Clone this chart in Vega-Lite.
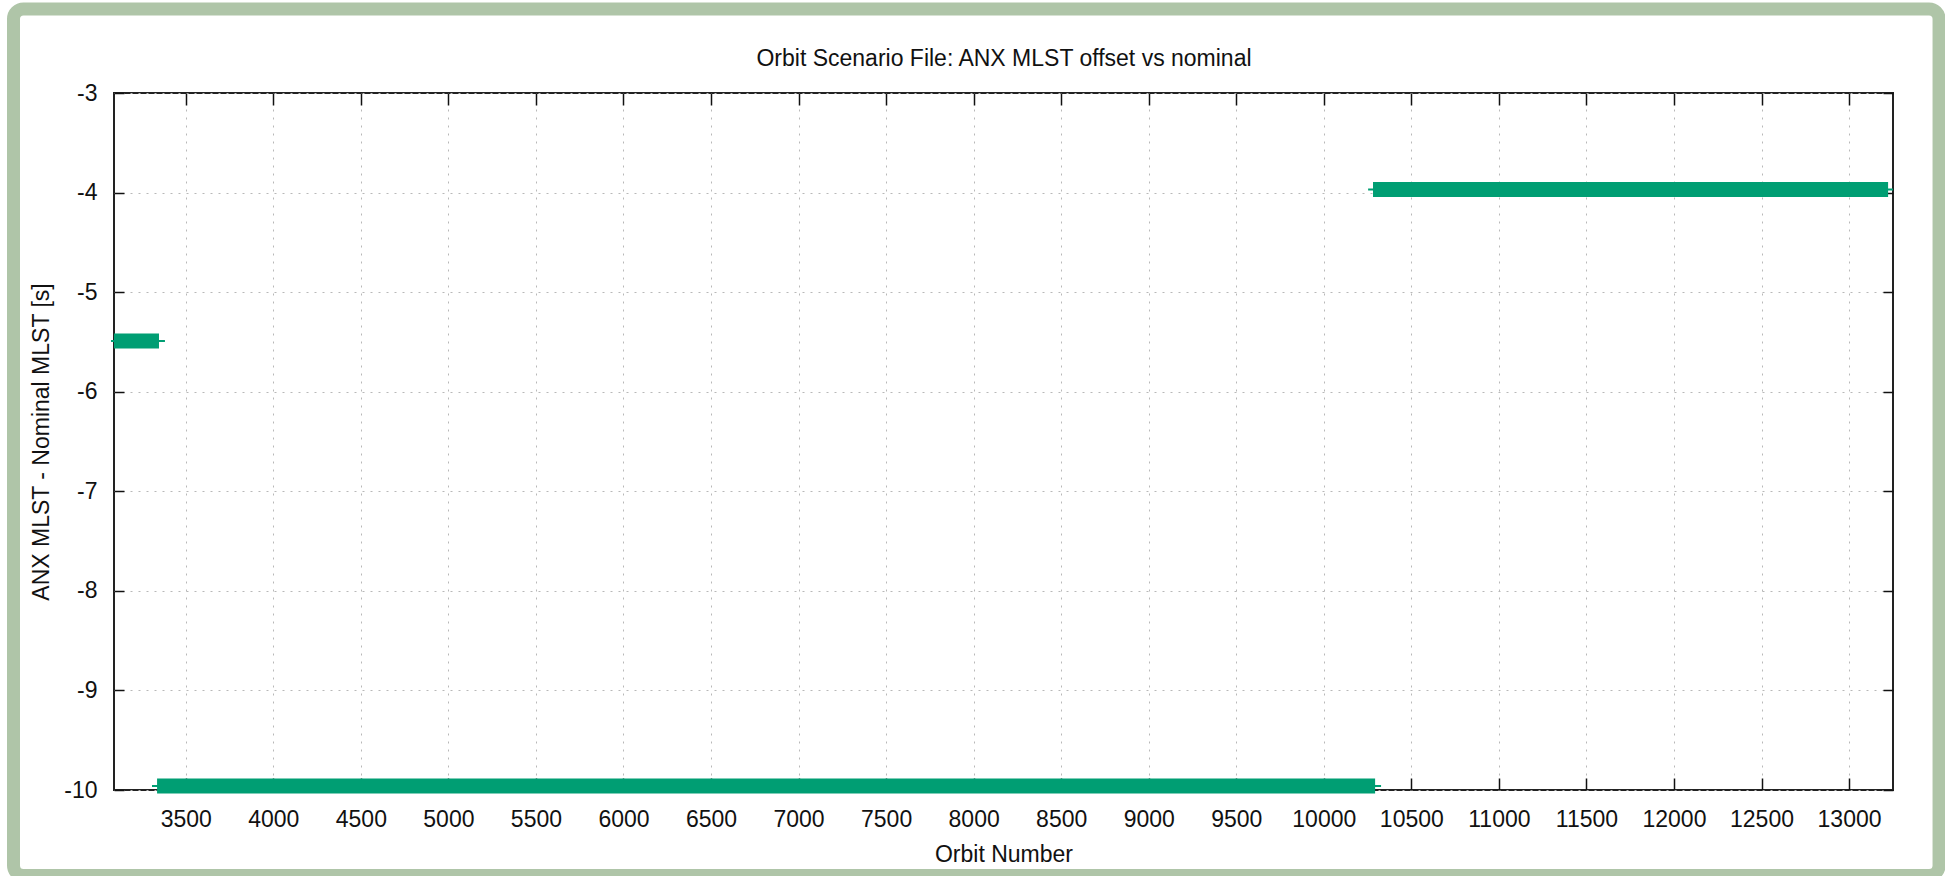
{
  "$schema": "https://vega.github.io/schema/vega-lite/v6.json",
  "autosize": {"type": "none"},
  "width": 1779,
  "height": 697,
  "padding": {"left": 114, "top": 93, "right": 52, "bottom": 86},
  "background": "white",
  "config": {
    "view": {"stroke": "#222", "strokeWidth": 2},
    "axis": {
      "labelFont": "Liberation Sans",
      "titleFont": "Liberation Sans",
      "labelFontSize": 23,
      "titleFontSize": 23,
      "titleFontWeight": "normal",
      "labelColor": "#111",
      "titleColor": "#111",
      "tickColor": "#111",
      "tickWidth": 1.5,
      "domain": false,
      "gridColor": "#b8b8b8",
      "gridDash": [2, 6],
      "gridWidth": 1
    }
  },
  "datasets": {
    "segments": [
      {"start": 3090, "end": 3347, "line_start": 3073, "line_end": 3381, "offset": -5.49},
      {"start": 3336, "end": 10293, "line_start": 3307, "line_end": 10327, "offset": -9.96},
      {"start": 10281, "end": 13223, "line_start": 10253, "line_end": 13251, "offset": -3.97}
    ],
    "frame": [
      {"x1": 2516, "x2": 13514, "y1": -2.156, "y2": -10.859}
    ]
  },
  "resolve": {
    "scale": {"x": "independent", "y": "independent"},
    "axis": {"x": "independent", "y": "independent"}
  },
  "layer": [
    {
      "data": {"name": "segments"},
      "mark": {"type": "rule", "color": "#009e73", "strokeWidth": 2, "clip": false},
      "encoding": {
        "x": {
          "field": "line_start", "type": "quantitative",
          "scale": {"domain": [3090, 13251], "nice": false, "zero": false},
          "axis": {
            "orient": "bottom",
            "values": [3500, 4000, 4500, 5000, 5500, 6000, 6500, 7000, 7500, 8000, 8500, 9000, 9500, 10000, 10500, 11000, 11500, 12000, 12500, 13000],
            "format": "d",
            "grid": true,
            "tickSize": -12,
            "labelPadding": 30,
            "labelFlush": false,
            "title": "Orbit Number",
            "titlePadding": 12
          }
        },
        "x2": {"field": "line_end"},
        "y": {
          "field": "offset", "type": "quantitative",
          "scale": {"domain": [-10, -3], "nice": false, "zero": false},
          "axis": {
            "orient": "left",
            "values": [-3, -4, -5, -6, -7, -8, -9, -10],
            "labelExpr": "datum.value + ''",
            "grid": true,
            "tickSize": -10,
            "labelPadding": 27,
            "labelFlush": false,
            "title": "ANX MLST - Nominal MLST [s]",
            "titlePadding": 10
          }
        }
      }
    },
    {
      "data": {"name": "segments"},
      "mark": {"type": "rule", "color": "#009e73", "strokeWidth": 15, "strokeCap": "butt", "clip": false},
      "encoding": {
        "x": {
          "field": "start", "type": "quantitative",
          "scale": {"domain": [3090, 13251], "nice": false, "zero": false},
          "axis": {
            "orient": "top",
            "values": [3500, 4000, 4500, 5000, 5500, 6000, 6500, 7000, 7500, 8000, 8500, 9000, 9500, 10000, 10500, 11000, 11500, 12000, 12500, 13000],
            "grid": false,
            "labels": false,
            "tickSize": -12,
            "title": "Orbit Scenario File: ANX MLST offset vs nominal",
            "titlePadding": 22
          }
        },
        "x2": {"field": "end"},
        "y": {
          "field": "offset", "type": "quantitative",
          "scale": {"domain": [-10, -3], "nice": false, "zero": false},
          "axis": {
            "orient": "right",
            "values": [-3, -4, -5, -6, -7, -8, -9, -10],
            "grid": false,
            "labels": false,
            "tickSize": -10,
            "title": null
          }
        }
      }
    },
    {
      "data": {"name": "frame"},
      "mark": {"type": "rect", "fill": null, "fillOpacity": 0, "stroke": "#afc5a8", "strokeWidth": 13, "cornerRadius": 10, "clip": false},
      "encoding": {
        "x": {"field": "x1", "type": "quantitative", "scale": {"domain": [3090, 13251], "nice": false, "zero": false}, "axis": null},
        "x2": {"field": "x2"},
        "y": {"field": "y1", "type": "quantitative", "scale": {"domain": [-10, -3], "nice": false, "zero": false}, "axis": null},
        "y2": {"field": "y2"}
      }
    }
  ]
}
